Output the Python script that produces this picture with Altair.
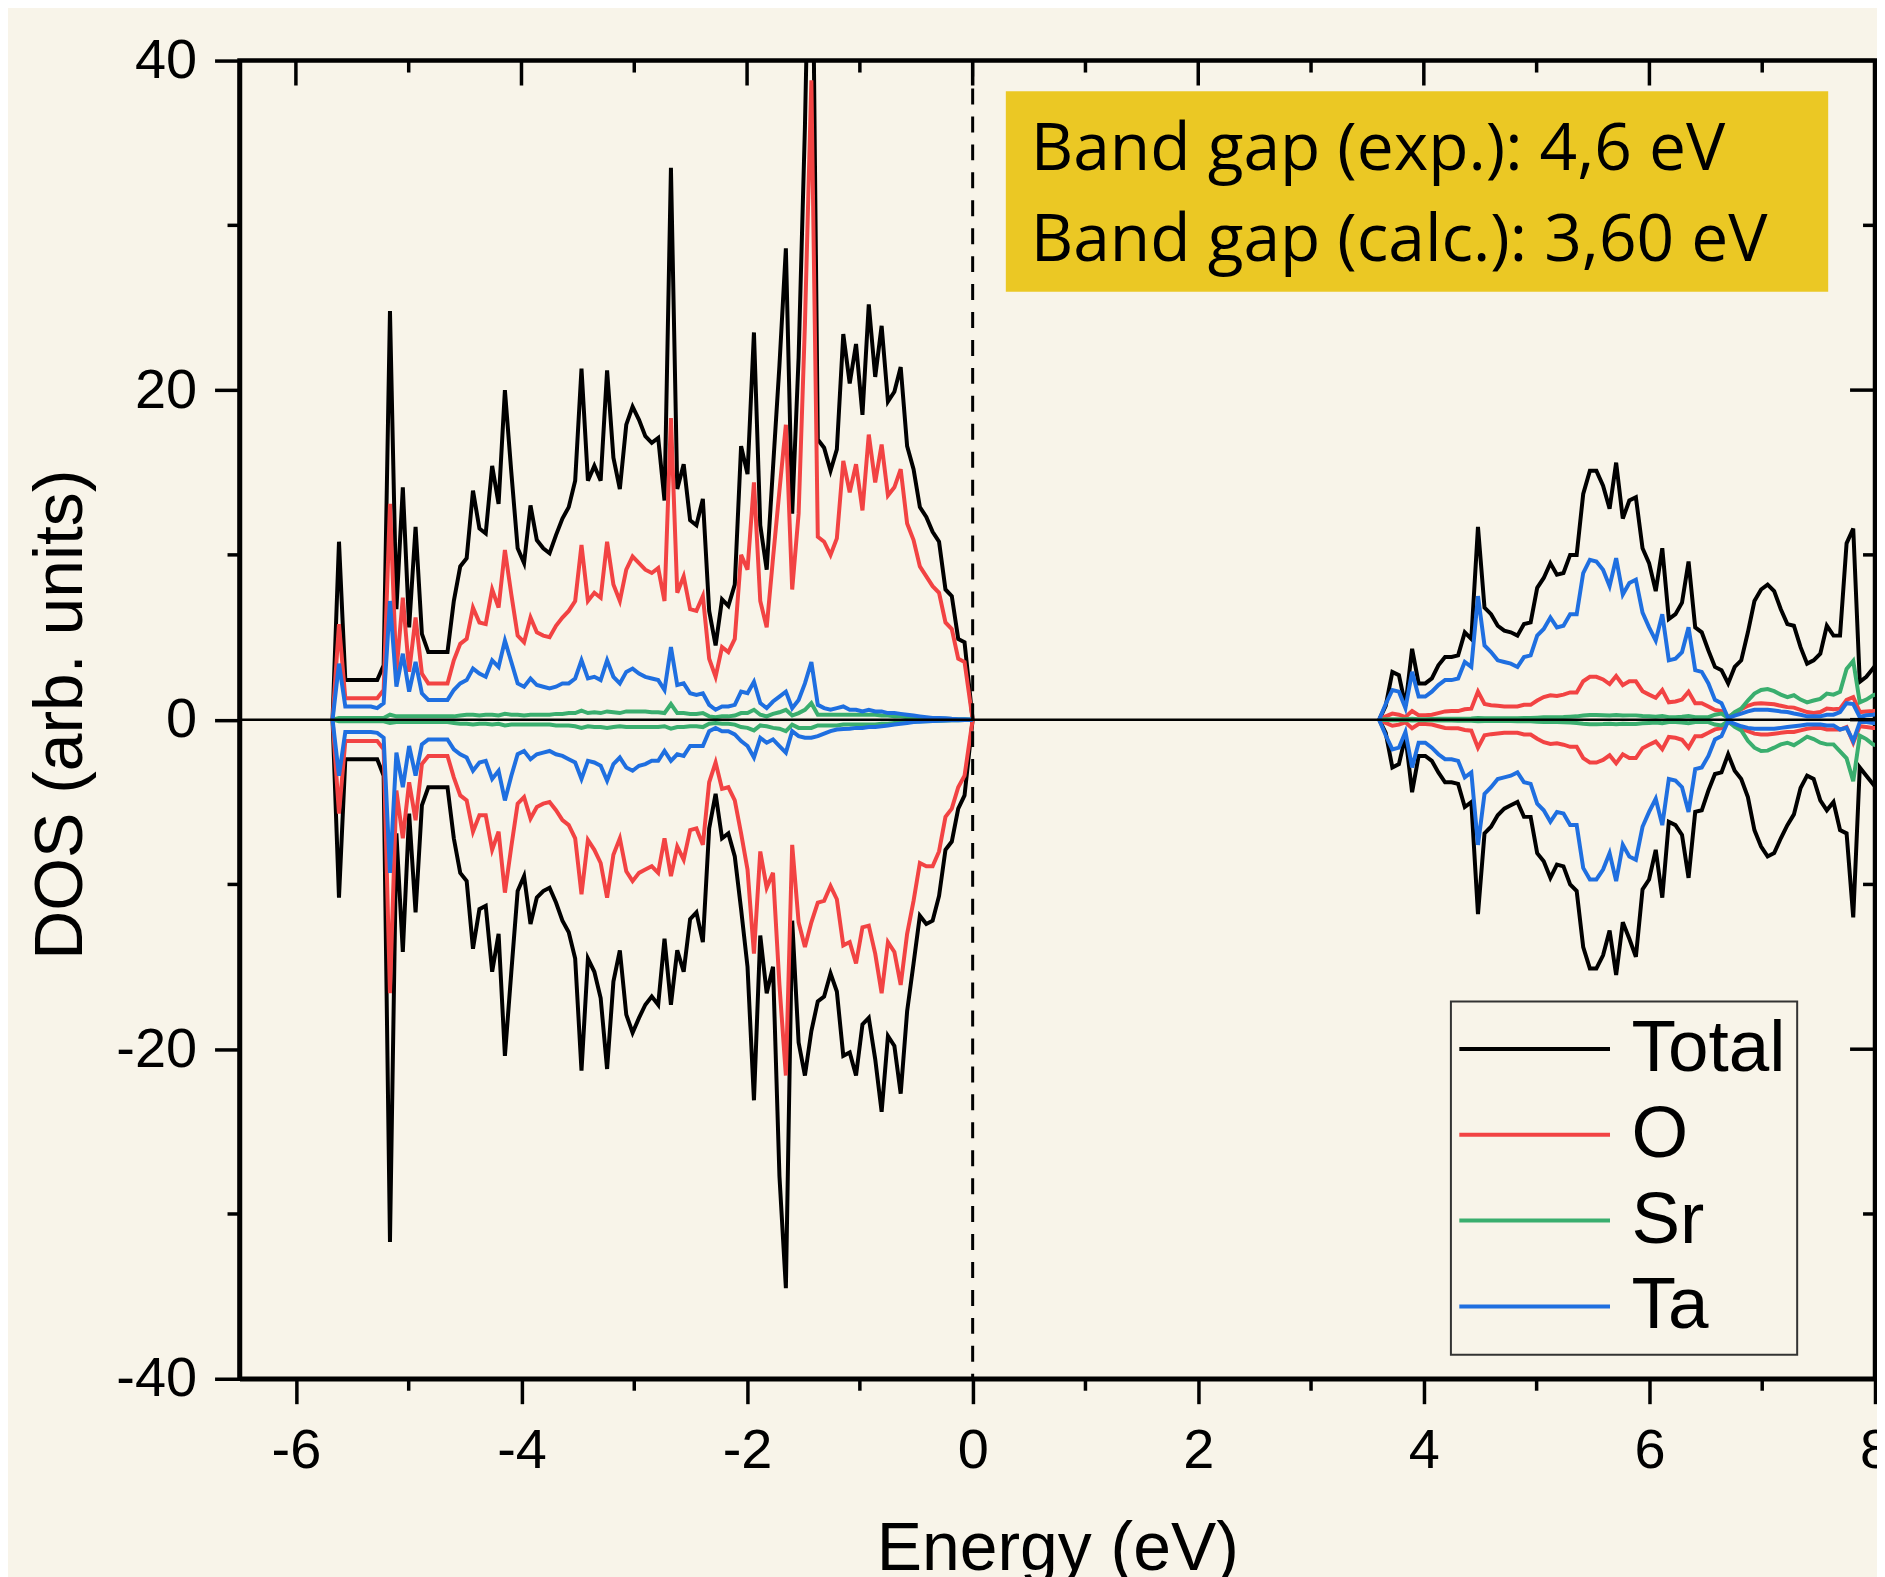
import altair as alt
import pandas as pd

# ---------------- data ----------------
NAMES = ["Total", "O", "Sr", "Ta"]
COLORS = ["#000000", "#F24343", "#3AAE6E", "#1F6FE0"]

# valence band energies (eV)
VAL_E = [-5.675, -5.618, -5.562, -5.505, -5.449, -5.392, -5.335, -5.279, -5.222, -5.166,
         -5.109, -5.052, -4.996, -4.939, -4.883, -4.826, -4.769, -4.713, -4.656, -4.600,
         -4.543, -4.486, -4.430, -4.373, -4.317, -4.260, -4.203, -4.147, -4.090, -4.034,
         -3.977, -3.920, -3.864, -3.807, -3.751, -3.694, -3.637, -3.581, -3.524, -3.468,
         -3.411, -3.354, -3.298, -3.241, -3.185, -3.128, -3.071, -3.015, -2.958, -2.902,
         -2.845, -2.788, -2.732, -2.675, -2.619, -2.562, -2.505, -2.449, -2.392, -2.336,
         -2.279, -2.222, -2.166, -2.109, -2.053, -1.996, -1.939, -1.883, -1.826, -1.770,
         -1.713, -1.656, -1.600, -1.543, -1.487, -1.430, -1.373, -1.317, -1.260, -1.204,
         -1.147, -1.090, -1.034, -0.977, -0.921, -0.864, -0.807, -0.751, -0.694, -0.638,
         -0.581, -0.524, -0.468, -0.411, -0.355, -0.298, -0.241, -0.185, -0.128, -0.072,
         0.0]

VAL_TOTAL_UP = [0, 10.8, 2.4, 2.4, 2.4, 2.4, 2.4, 2.4, 3.3, 24.8,
                6.7, 14.1, 5.6, 11.7, 5.2, 4.1, 4.1, 4.1, 4.1, 7.2,
                9.3, 9.8, 13.9, 11.6, 11.3, 15.4, 13.1, 20.0, 15.0, 10.4,
                9.5, 13.0, 10.9, 10.4, 10.1, 11.2, 12.2, 12.9, 14.5, 21.3,
                14.5, 15.4, 14.5, 21.2, 15.9, 14.0, 17.9, 19.0, 18.2, 17.2,
                16.8, 17.1, 13.3, 33.5, 14.0, 15.5, 12.1, 11.8, 13.4, 6.6,
                4.5, 7.3, 6.9, 8.2, 16.6, 14.9, 23.5, 11.8, 9.1, 15.3,
                21.5, 28.6, 12.5, 22.0, 36.0, 55.0, 17.0, 16.5, 15.1, 16.4,
                23.4, 20.4, 22.8, 18.5, 25.2, 20.8, 23.9, 19.3, 19.9, 21.4,
                16.6, 15.2, 12.9, 12.3, 11.4, 10.8, 7.9, 7.5, 4.9, 4.7,
                0]
VAL_TOTAL_DN = [0, -10.8, -2.4, -2.4, -2.4, -2.4, -2.4, -2.4, -3.4, -31.7,
                -6.9, -14.1, -5.7, -11.7, -5.2, -4.1, -4.1, -4.1, -4.1, -7.2,
                -9.3, -9.8, -13.9, -11.5, -11.3, -15.3, -13.0, -20.4, -15.3, -10.4,
                -9.5, -12.4, -10.8, -10.4, -10.2, -11.1, -12.2, -12.9, -14.5, -21.3,
                -14.5, -15.3, -16.9, -21.2, -15.9, -14.0, -17.9, -19.0, -18.1, -17.3,
                -16.8, -17.3, -13.3, -17.3, -14.0, -15.3, -12.1, -11.7, -13.5, -6.6,
                -4.5, -7.2, -6.9, -8.3, -11.5, -15.0, -23.1, -13.1, -16.6, -15.0,
                -27.7, -34.5, -12.2, -19.6, -21.6, -18.9, -17.1, -16.8, -15.4, -16.5,
                -20.4, -20.2, -21.6, -18.5, -18.1, -20.6, -23.8, -19.2, -19.8, -22.7,
                -17.7, -14.8, -11.9, -12.4, -12.2, -10.7, -7.9, -7.4, -5.4, -4.6,
                0]
VAL_O_UP = [0, 5.8, 1.3, 1.3, 1.3, 1.3, 1.3, 1.3, 1.8, 13.1,
            2.9, 7.4, 2.9, 6.2, 2.8, 2.2, 2.2, 2.2, 2.2, 3.6,
            4.6, 4.9, 6.8, 5.9, 5.8, 7.9, 6.8, 10.3, 7.6, 5.1,
            4.7, 6.2, 5.3, 5.1, 5.0, 5.7, 6.2, 6.6, 7.2, 10.6,
            7.2, 7.7, 7.4, 10.8, 8.2, 7.2, 9.1, 9.9, 9.5, 9.1,
            8.9, 9.2, 7.2, 18.3, 7.7, 8.7, 6.7, 6.6, 7.5, 3.7,
            2.6, 4.4, 4.1, 4.9, 10.0, 9.1, 14.4, 7.2, 5.6, 9.8,
            13.9, 17.9, 7.9, 12.5, 24.0, 38.8, 11.1, 10.8, 10.0, 11.0,
            15.7, 13.8, 15.5, 12.7, 17.3, 14.4, 16.7, 13.6, 14.1, 15.2,
            11.9, 10.9, 9.3, 8.7, 8.1, 7.7, 5.9, 5.5, 3.7, 3.5,
            0]
VAL_O_DN = [0, -5.7, -1.3, -1.3, -1.3, -1.3, -1.3, -1.3, -1.8, -16.6,
            -4.3, -7.2, -3.8, -6.1, -2.7, -2.2, -2.2, -2.2, -2.2, -3.5,
            -4.6, -4.9, -6.8, -5.8, -5.8, -7.9, -6.8, -10.5, -7.7, -5.1,
            -4.7, -6.0, -5.3, -5.1, -5.0, -5.5, -6.1, -6.4, -7.2, -10.6,
            -7.3, -7.9, -8.7, -10.8, -8.2, -7.2, -9.2, -9.8, -9.3, -9.1,
            -8.9, -9.3, -7.2, -9.5, -7.7, -8.5, -6.7, -6.6, -7.6, -3.8,
            -2.6, -4.2, -4.1, -4.9, -6.9, -9.1, -14.2, -8.0, -10.2, -9.3,
            -16.1, -21.6, -7.6, -12.3, -13.8, -12.3, -11.1, -11.0, -10.1, -10.9,
            -13.7, -13.5, -14.8, -12.6, -12.5, -14.2, -16.6, -13.5, -14.1, -16.1,
            -13.0, -11.0, -8.7, -8.9, -8.9, -8.0, -5.9, -5.4, -4.1, -3.4,
            0]
VAL_SR_UP = [0, 0.1, 0.1, 0.1, 0.1, 0.1, 0.1, 0.1, 0.1, 0.3,
             0.2, 0.2, 0.2, 0.2, 0.2, 0.2, 0.2, 0.2, 0.2, 0.2,
             0.25, 0.3, 0.3, 0.25, 0.3, 0.3, 0.25, 0.35, 0.3, 0.3,
             0.25, 0.3, 0.3, 0.3, 0.3, 0.35, 0.35, 0.4, 0.4, 0.55,
             0.4, 0.45, 0.4, 0.5, 0.45, 0.4, 0.5, 0.5, 0.5, 0.5,
             0.45, 0.45, 0.4, 0.95, 0.4, 0.4, 0.35, 0.35, 0.4, 0.2,
             0.15, 0.2, 0.2, 0.25, 0.4, 0.4, 0.6, 0.3, 0.2, 0.35,
             0.45, 0.6, 0.25, 0.4, 0.6, 1.0, 0.3, 0.3, 0.3, 0.3,
             0.3, 0.3, 0.3, 0.3, 0.3, 0.3, 0.25, 0.25, 0.2, 0.2,
             0.15, 0.15, 0.1, 0.1, 0.08, 0.06, 0.05, 0.04, 0.03, 0.02,
             0]
VAL_SR_DN = [0, -0.1, -0.1, -0.1, -0.1, -0.1, -0.1, -0.1, -0.1, -0.2,
             -0.15, -0.15, -0.15, -0.15, -0.15, -0.15, -0.15, -0.15, -0.15, -0.2,
             -0.25, -0.25, -0.3, -0.25, -0.25, -0.3, -0.25, -0.35, -0.3, -0.3,
             -0.3, -0.3, -0.3, -0.3, -0.3, -0.35, -0.35, -0.35, -0.4, -0.5,
             -0.4, -0.45, -0.45, -0.5, -0.45, -0.4, -0.45, -0.45, -0.45, -0.45,
             -0.45, -0.45, -0.4, -0.55, -0.45, -0.45, -0.4, -0.4, -0.45, -0.25,
             -0.2, -0.25, -0.25, -0.3, -0.45, -0.5, -0.65, -0.35, -0.4, -0.5,
             -0.55, -0.7, -0.3, -0.5, -0.5, -0.5, -0.35, -0.35, -0.35, -0.35,
             -0.3, -0.3, -0.3, -0.3, -0.3, -0.3, -0.25, -0.25, -0.2, -0.2,
             -0.15, -0.15, -0.1, -0.1, -0.08, -0.06, -0.05, -0.04, -0.03, -0.02,
             0]
VAL_TA_UP = [0, 3.4, 0.8, 0.8, 0.8, 0.8, 0.8, 0.7, 1.0, 7.2,
             2.0, 4.0, 1.7, 3.5, 1.6, 1.2, 1.2, 1.2, 1.2, 1.8,
             2.2, 2.4, 3.1, 2.8, 2.6, 3.6, 3.2, 4.8, 3.5, 2.2,
             2.0, 2.5, 2.1, 2.0, 1.9, 2.0, 2.2, 2.2, 2.5, 3.6,
             2.5, 2.6, 2.4, 3.6, 2.6, 2.2, 2.9, 3.1, 2.8, 2.6,
             2.5, 2.4, 1.8, 4.4, 2.1, 2.2, 1.6, 1.5, 1.6, 0.9,
             0.6, 0.8, 0.8, 0.9, 1.7, 1.6, 2.3, 1.0, 0.7, 1.1,
             1.4, 1.7, 0.7, 1.2, 2.2, 3.5, 0.9, 0.7, 0.6, 0.7,
             0.8, 0.6, 0.6, 0.5, 0.6, 0.5, 0.5, 0.4, 0.4, 0.35,
             0.3, 0.25, 0.2, 0.15, 0.1, 0.1, 0.08, 0.05, 0.03, 0.02,
             0]
VAL_TA_DN = [0, -3.4, -0.75, -0.75, -0.75, -0.75, -0.75, -0.8, -1.1, -9.3,
             -2.0, -4.1, -1.6, -3.4, -1.5, -1.2, -1.2, -1.2, -1.2, -1.8,
             -2.1, -2.3, -3.1, -2.6, -2.5, -3.6, -3.1, -4.9, -3.4, -2.1,
             -1.9, -2.4, -2.1, -2.0, -1.9, -2.1, -2.2, -2.4, -2.6, -3.6,
             -2.5, -2.6, -2.8, -3.7, -2.7, -2.3, -2.9, -3.1, -2.8, -2.7,
             -2.5, -2.5, -1.9, -2.5, -2.1, -2.2, -1.6, -1.6, -1.6, -0.7,
             -0.5, -0.7, -0.7, -0.9, -1.3, -1.6, -2.3, -1.1, -1.4, -1.2,
             -1.6, -2.0, -0.7, -1.0, -1.1, -1.1, -1.0, -0.85, -0.7, -0.6,
             -0.57, -0.55, -0.5, -0.5, -0.45, -0.45, -0.4, -0.35, -0.3, -0.25,
             -0.2, -0.15, -0.12, -0.1, -0.08, -0.06, -0.05, -0.04, -0.03, -0.02,
             0]

# conduction band energies (eV)
CON_E = [3.604, 3.662, 3.721, 3.779, 3.837, 3.896, 3.954, 4.013, 4.071, 4.129,
         4.188, 4.246, 4.304, 4.363, 4.421, 4.480, 4.538, 4.596, 4.655, 4.713,
         4.771, 4.830, 4.888, 4.947, 5.005, 5.063, 5.122, 5.180, 5.238, 5.297,
         5.355, 5.413, 5.472, 5.530, 5.589, 5.647, 5.705, 5.764, 5.822, 5.880,
         5.939, 5.997, 6.056, 6.114, 6.172, 6.231, 6.289, 6.347, 6.406, 6.464,
         6.523, 6.581, 6.639, 6.698, 6.756, 6.814, 6.873, 6.931, 6.990, 7.048,
         7.106, 7.165, 7.223, 7.281, 7.340, 7.398, 7.456, 7.515, 7.573, 7.632,
         7.690, 7.748, 7.807, 7.865, 7.923, 7.982, 8.040]

CON_TOTAL_UP = [0, 0.84, 2.9, 2.7, 0.84, 4.3, 2.2, 2.2, 2.5, 3.3,
                3.8, 3.8, 3.9, 5.3, 4.9, 11.7, 6.8, 6.4, 5.7, 5.4,
                5.3, 5.1, 5.8, 5.9, 8.0, 8.6, 9.5, 8.8, 8.9, 10.0,
                10.0, 13.7, 15.1, 15.1, 14.2, 12.8, 15.6, 12.2, 13.3, 13.5,
                10.4, 9.5, 7.8, 10.4, 6.1, 6.4, 7.1, 9.6, 5.6, 5.3,
                4.2, 3.2, 3.0, 2.2, 3.2, 3.6, 5.3, 7.2, 7.9, 8.2,
                7.8, 6.7, 5.8, 5.7, 4.4, 3.4, 3.6, 4.0, 5.7, 5.1,
                5.1, 10.7, 11.6, 2.3, 2.6, 3.1, 3.6]
CON_TOTAL_DN = [0, -0.8, -2.9, -2.7, -1.0, -4.4, -2.2, -2.2, -2.5, -3.2,
                -3.8, -3.8, -3.9, -5.3, -5.0, -11.8, -6.9, -6.5, -5.8, -5.4,
                -5.2, -5.0, -5.9, -5.9, -8.1, -8.6, -9.6, -8.8, -8.9, -10.0,
                -10.4, -13.8, -15.1, -15.1, -14.3, -12.8, -15.5, -12.3, -13.3, -14.4,
                -10.3, -9.7, -7.9, -10.8, -6.2, -6.4, -7.0, -9.6, -5.6, -5.5,
                -4.3, -3.3, -3.2, -2.1, -3.1, -3.6, -4.7, -6.7, -7.7, -8.3,
                -8.1, -7.2, -6.4, -5.75, -4.15, -3.4, -3.6, -4.9, -5.5, -5.0,
                -6.7, -6.9, -12.0, -2.9, -3.4, -3.9, -4.4]
CON_O_UP = [0, 0.2, 0.37, 0.3, 0.16, 0.52, 0.27, 0.27, 0.3, 0.4,
            0.5, 0.52, 0.52, 0.63, 0.67, 1.7, 0.95, 0.88, 0.84, 0.8,
            0.8, 0.8, 0.9, 0.9, 1.16, 1.37, 1.48, 1.44, 1.52, 1.65,
            1.65, 2.33, 2.6, 2.6, 2.44, 2.16, 2.65, 2.1, 2.33, 2.33,
            1.73, 1.52, 1.33, 1.8, 1.05, 1.1, 1.22, 1.7, 1.0, 1.0,
            0.8, 0.59, 0.52, 0.16, 0.4, 0.63, 0.84, 0.97, 1.0, 0.97,
            0.93, 0.84, 0.76, 0.73, 0.59, 0.46, 0.4, 0.46, 0.67, 0.63,
            0.67, 1.2, 1.37, 0.46, 0.5, 0.52, 0.55]
CON_O_DN = [0, -0.2, -0.37, -0.3, -0.16, -0.52, -0.27, -0.27, -0.3, -0.4,
            -0.5, -0.52, -0.52, -0.63, -0.67, -1.7, -0.95, -0.88, -0.84, -0.8,
            -0.8, -0.8, -0.9, -0.9, -1.16, -1.37, -1.48, -1.44, -1.52, -1.65,
            -1.65, -2.33, -2.6, -2.6, -2.44, -2.16, -2.65, -2.1, -2.33, -2.33,
            -1.73, -1.52, -1.33, -1.8, -1.05, -1.1, -1.22, -1.7, -1.0, -1.0,
            -0.8, -0.59, -0.52, -0.16, -0.35, -0.55, -0.7, -0.85, -0.9, -0.9,
            -0.85, -0.8, -0.75, -0.75, -0.65, -0.55, -0.5, -0.5, -0.6, -0.6,
            -0.6, -0.45, -1.4, -0.4, -0.45, -0.5, -0.5]
CON_SR_UP = [0, 0.02, 0.03, 0.03, 0.02, 0.05, 0.03, 0.03, 0.04, 0.05,
             0.05, 0.05, 0.06, 0.06, 0.07, 0.1, 0.08, 0.08, 0.08, 0.08,
             0.08, 0.09, 0.1, 0.1, 0.12, 0.14, 0.15, 0.15, 0.16, 0.18,
             0.2, 0.25, 0.28, 0.28, 0.27, 0.25, 0.28, 0.25, 0.26, 0.26,
             0.22, 0.2, 0.18, 0.22, 0.15, 0.15, 0.17, 0.22, 0.15, 0.15,
             0.15, 0.3, 0.37, 0.1, 0.46, 0.67, 1.16, 1.58, 1.8, 1.86,
             1.73, 1.52, 1.37, 1.48, 1.22, 1.05, 1.16, 1.26, 1.58, 1.52,
             1.69, 3.07, 3.56, 1.05, 1.22, 1.48, 1.6]
CON_SR_DN = [0, -0.02, -0.03, -0.03, -0.02, -0.05, -0.03, -0.03, -0.04, -0.05,
             -0.05, -0.05, -0.06, -0.06, -0.07, -0.1, -0.08, -0.08, -0.08, -0.08,
             -0.08, -0.09, -0.1, -0.1, -0.12, -0.14, -0.15, -0.15, -0.16, -0.18,
             -0.2, -0.25, -0.28, -0.28, -0.27, -0.25, -0.28, -0.25, -0.26, -0.26,
             -0.22, -0.2, -0.18, -0.22, -0.15, -0.15, -0.17, -0.22, -0.15, -0.15,
             -0.15, -0.3, -0.35, -0.1, -0.44, -0.65, -1.28, -1.7, -1.9, -1.88,
             -1.7, -1.5, -1.4, -1.55, -1.3, -1.03, -1.18, -1.4, -1.5, -1.5,
             -1.93, -2.35, -3.73, -0.97, -1.18, -1.5, -1.6]
CON_TA_UP = [0, 0.95, 1.8, 1.7, 0.7, 2.9, 1.4, 1.4, 1.7, 2.1,
             2.4, 2.4, 2.5, 3.5, 3.2, 7.5, 4.5, 4.1, 3.6, 3.5,
             3.4, 3.2, 3.8, 3.9, 5.1, 5.5, 6.2, 5.6, 5.7, 6.4,
             6.4, 8.9, 9.7, 9.6, 9.1, 8.1, 9.8, 7.6, 8.3, 8.5,
             6.5, 5.6, 4.8, 6.4, 3.6, 3.7, 4.1, 5.6, 3.0, 2.9,
             2.2, 1.2, 1.0, 0.1, 0.25, 0.37, 0.5, 0.6, 0.6, 0.6,
             0.55, 0.5, 0.46, 0.37, 0.3, 0.2, 0.2, 0.2, 0.3, 0.3,
             0.46, 1.0, 0.95, 0.16, 0.27, 0.3, 0.35]
CON_TA_DN = [0, -0.95, -1.8, -1.7, -0.75, -2.9, -1.4, -1.4, -1.7, -2.1,
             -2.4, -2.4, -2.5, -3.5, -3.2, -7.6, -4.5, -4.1, -3.6, -3.5,
             -3.4, -3.2, -3.8, -3.9, -5.1, -5.5, -6.2, -5.6, -5.7, -6.4,
             -6.4, -9.0, -9.7, -9.7, -9.1, -8.1, -9.8, -7.6, -8.3, -8.5,
             -6.5, -5.6, -4.8, -6.4, -3.6, -3.7, -4.1, -5.6, -3.0, -2.9,
             -2.2, -1.2, -1.0, -0.1, -0.25, -0.4, -0.5, -0.55, -0.55, -0.55,
             -0.55, -0.5, -0.45, -0.4, -0.35, -0.3, -0.3, -0.3, -0.35, -0.35,
             -0.6, -0.5, -1.3, -0.15, -0.15, -0.2, -0.2]

X_TICKS = [-6, -4, -2, 0, 2, 4, 6, 8]
X_MINOR = [-5, -3, -1, 1, 3, 5, 7]
Y_TICKS = [-40, -20, 0, 20, 40]
Y_MINOR = [-30, -10, 10, 30]

BOX = {"E": [0.294], "E2": [7.585], "DOS": [38.14], "DOS2": [25.97]}
NOTE = {"E": [0.515, 0.515], "DOS": [33.36, 27.84],
        "label": ["Band gap (exp.): 4,6 eV", "Band gap (calc.): 3,60 eV"]}

# ---------------- build table ----------------
SERIES = [
    ("Total", VAL_TOTAL_UP, VAL_TOTAL_DN, CON_TOTAL_UP, CON_TOTAL_DN),
    ("O", VAL_O_UP, VAL_O_DN, CON_O_UP, CON_O_DN),
    ("Sr", VAL_SR_UP, VAL_SR_DN, CON_SR_UP, CON_SR_DN),
    ("Ta", VAL_TA_UP, VAL_TA_DN, CON_TA_UP, CON_TA_DN),
]
rows = []
for name, vu, vd, cu, cd in SERIES:
    for tag, es, vals in (("vu", VAL_E, vu), ("vd", VAL_E, vd),
                          ("cu", CON_E, cu), ("cd", CON_E, cd)):
        assert len(es) == len(vals), (name, tag, len(es), len(vals))
        for e, v in zip(es, vals):
            rows.append({"E": e, "DOS": v, "Element": name, "trace": name + "-" + tag})
df = pd.DataFrame(rows)

BG = "#F8F4E9"
W, H = 1639, 1321
xs = alt.Scale(domain=[-6.5, 8], nice=False, zero=False)
ys = alt.Scale(domain=[-40, 40], nice=False, zero=False)

XAX = alt.Axis(values=X_TICKS, title="Energy (eV)", labelExpr="'' + datum.value",
               tickSize=25, labelPadding=20, labelFlush=False,
               titleX=819.5, titleY=191.5, titleBaseline="alphabetic", titleAlign="center")
YAX = alt.Axis(values=Y_TICKS, title="DOS (arb. units)", labelExpr="'' + datum.value",
               tickSize=25, labelPadding=18,
               titleX=-158, titleY=655, titleAngle=270,
               titleBaseline="alphabetic", titleAlign="center")

def X(field="E"):
    return alt.X(field + ":Q", scale=xs, axis=XAX)

def Y(field="DOS"):
    return alt.Y(field + ":Q", scale=ys, axis=YAX)

box = alt.Chart(pd.DataFrame(BOX)).mark_rect(color="#EBC824").encode(
    x=X(), x2="E2:Q", y=Y(), y2="DOS2:Q")

lines = alt.Chart(df).mark_line(strokeWidth=4, clip=True, strokeJoin="miter",
                                strokeMiterLimit=4).encode(
    x=X(), y=Y(),
    color=alt.Color("Element:N", scale=alt.Scale(domain=NAMES, range=COLORS),
                    legend=alt.Legend(title=None, orient="none", legendX=1214, legendY=943,
                                      symbolType="M-2.07,0L5.93,0", symbolSize=1425,
                                      symbolStrokeWidth=4, labelFontSize=73,
                                      labelFont="Liberation Sans", labelOffset=97,
                                      rowPadding=12, padding=11, strokeColor="#333333")),
    detail="trace:N",
)

zero = alt.Chart(pd.DataFrame({"DOS": [0]})).mark_rule(color="black", strokeWidth=2.5).encode(y=Y())
fermi = alt.Chart(pd.DataFrame({"E": [0]})).mark_rule(
    color="black", strokeWidth=3, strokeDash=[16, 12]).encode(x=X())

note = alt.Chart(pd.DataFrame(NOTE)).mark_text(
    align="left", baseline="alphabetic", font="Open Sans", fontSize=66, color="black").encode(
    x=X(), y=Y(), text="label:N")

def xticks(vals, y0, y1):
    return alt.Chart(pd.DataFrame({"E": vals})).mark_rule(color="black", strokeWidth=3.5).encode(
        x=X(), y=alt.value(y0), y2=alt.value(y1))

def yticks(vals, x0, x1):
    return alt.Chart(pd.DataFrame({"DOS": vals})).mark_rule(color="black", strokeWidth=3.5).encode(
        y=Y(), x=alt.value(x0), x2=alt.value(x1))

ticks = [
    xticks(X_MINOR, H, H + 12),      # bottom minor, outward
    xticks(X_TICKS, 0, 25),          # top major, inward
    xticks(X_MINOR, 0, 12),          # top minor, inward
    yticks(Y_MINOR, 0, -12),         # left minor, outward
    yticks(Y_TICKS, W, W - 25),      # right major, inward
    yticks(Y_MINOR, W, W - 12),      # right minor, inward
]

chart = alt.layer(box, lines, zero, fermi, note, *ticks).properties(
    width=W, height=H,
    padding={"left": 232, "top": 51, "right": 2, "bottom": 197},
    autosize=alt.AutoSizeParams(type="none"),
    background=BG,
).configure_view(
    stroke="black", strokeWidth=4.5, fill=BG
).configure_axis(
    domainColor="black", domainWidth=4.5, tickColor="black", tickWidth=3.5,
    labelFont="Liberation Sans", labelFontSize=56, labelColor="black",
    titleFont="Liberation Sans", titleFontSize=68, titleFontWeight="normal",
    titleColor="black", grid=False
).configure_legend(
    strokeWidth=2
)

chart.save("out.html", embed_options={"renderer": "svg", "actions": False})
